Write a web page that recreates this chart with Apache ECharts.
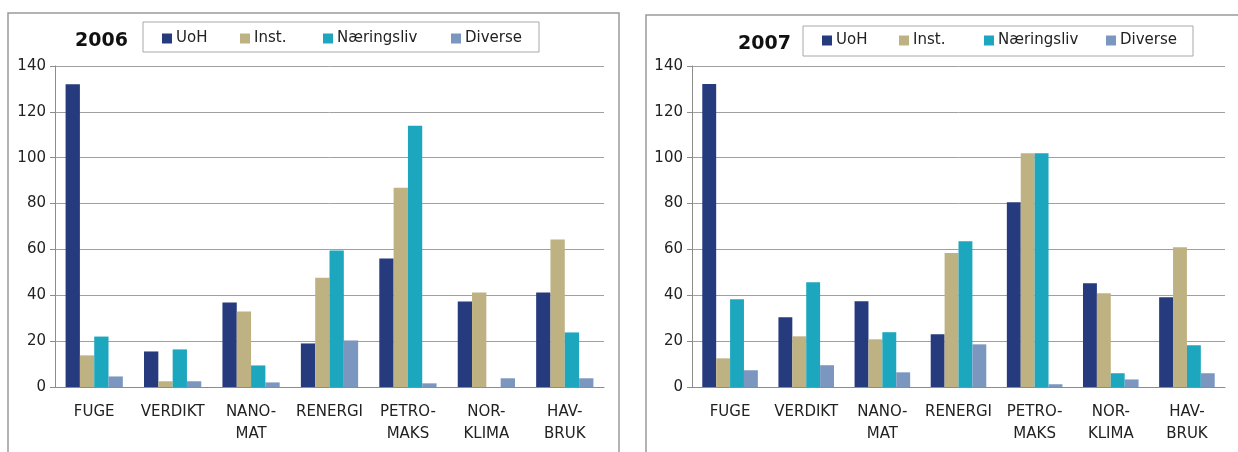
<!DOCTYPE html>
<html><head><meta charset="utf-8">
<script src="https://cdn.jsdelivr.net/npm/echarts@6/dist/echarts.min.js"></script>
<style>html,body{margin:0;padding:0;background:#fff}#c{width:1238px;height:452px}</style>
</head><body><div id="c"></div>
<script>
const categories = ['FUGE','VERDIKT','NANO-\nMAT','RENERGI','PETRO-\nMAKS','NOR-\nKLIMA','HAV-\nBRUK'];
const seriesNames = ['UoH','Inst.','Næringsliv','Diverse'];
const colors = ['#263A7E','#BFB282','#1DA7BE','#7B97C0'];
const years = ['2006','2007'];
const uoh2006 = [132, 15.5, 36.8, 19.0, 56.0, 37.3, 41.2];
const inst2006 = [13.8, 2.5, 32.9, 47.7, 86.9, 41.2, 64.3];
const naering2006 = [22.0, 16.4, 9.4, 59.5, 113.9, 0, 23.8];
const diverse2006 = [4.6, 2.5, 2.0, 20.3, 1.6, 3.8, 3.8];
const uoh2007 = [132.1, 30.4, 37.4, 23.0, 80.6, 45.3, 39.1];
const inst2007 = [12.5, 22.1, 20.8, 58.4, 102.0, 40.9, 61.0];
const naering2007 = [38.3, 45.7, 23.9, 63.6, 102.0, 6.0, 18.2];
const diverse2007 = [7.3, 9.5, 6.4, 18.6, 1.2, 3.3, 6.0];
const yTicks = [0, 20, 40, 60, 80, 100, 120, 140];

const data = [[uoh2006, inst2006, naering2006, diverse2006],[uoh2007, inst2007, naering2007, diverse2007]];
const font = 'DejaVu Sans';
const grids = [{left:55, top:66, width:549, height:321},{left:692, top:66, width:533, height:321}];
const legendX = [[162,240,323,451],[822,899,984,1106]];
const legendY = [31, 33];
const titlePos = [[75,32],[738,35]];

const chart = echarts.init(document.getElementById('c'));
const series = [];
data.forEach((set, g) => set.forEach((vals, i) => series.push({
  type:'bar', name:seriesNames[i], xAxisIndex:g, yAxisIndex:g, data:vals,
  itemStyle:{color:colors[i]}, barGap:'0%', barCategoryGap:'27%', animation:false
})));
const legends = [];
legendX.forEach((xs, g) => xs.forEach((x, i) => legends.push({
  data:[seriesNames[i]], left:x, top:legendY[g], padding:0, icon:'rect', itemWidth:10, itemHeight:10, itemGap:0,
  textStyle:{fontFamily:font, fontSize:15, color:'#222', padding:[0,0,0,-1]}, selectedMode:false
})));
chart.setOption({
  animation:false,
  title: years.map((y, g) => ({text:y, left:titlePos[g][0], top:titlePos[g][1], padding:0,
    textStyle:{fontFamily:font, fontSize:19, fontWeight:'bold', color:'#111'}})),
  legend: legends,
  grid: grids,
  xAxis: grids.map((_, g) => ({type:'category', gridIndex:g, data:categories,
    axisLine:{lineStyle:{color:'#8c8c8c', width:1}},
    axisTick:{length:5, lineStyle:{color:'#8c8c8c'}},
    axisLabel:{fontFamily:font, fontSize:15, color:'#222', margin:14, lineHeight:22, interval:0}})),
  yAxis: grids.map((_, g) => ({type:'value', gridIndex:g, min:yTicks[0], max:yTicks[yTicks.length-1], interval:yTicks[1]-yTicks[0],
    axisLine:{show:true, lineStyle:{color:'#8c8c8c'}},
    axisTick:{show:true, length:5, lineStyle:{color:'#8c8c8c'}},
    splitLine:{lineStyle:{color:'#a0a0a0', width:1}},
    axisLabel:{fontFamily:font, fontSize:15, color:'#222', margin:9}})),
  graphic: [
    {type:'rect', shape:{x:8, y:13, width:611, height:480}, style:{fill:'none', stroke:'#9a9a9a', lineWidth:1.5}, z:-1},
    {type:'rect', shape:{x:646, y:15, width:620, height:480}, style:{fill:'none', stroke:'#9a9a9a', lineWidth:1.5}, z:-1},
    {type:'rect', shape:{x:143, y:22, width:396, height:30}, style:{fill:'#fff', stroke:'#a8a8a8', lineWidth:1}, z:-1},
    {type:'rect', shape:{x:803, y:26, width:390, height:30}, style:{fill:'#fff', stroke:'#a8a8a8', lineWidth:1}, z:-1}
  ],
  series: series
});
</script></body></html>
